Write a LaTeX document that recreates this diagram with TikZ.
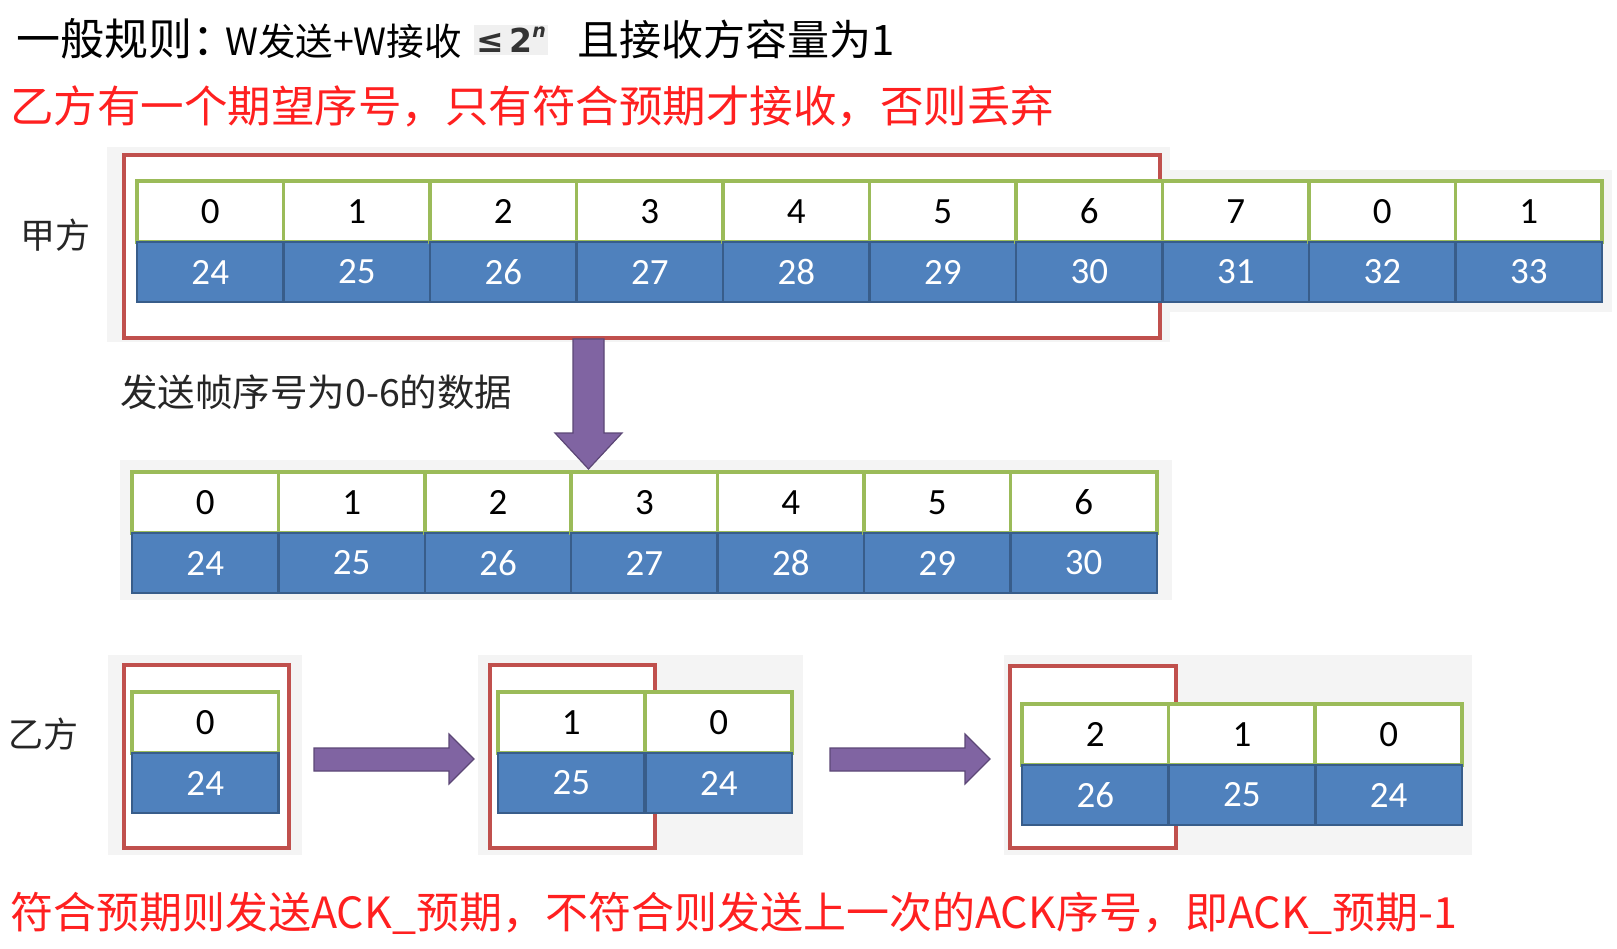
\documentclass[tikz,border=0pt]{standalone}
\usepackage{fontspec}
\setmainfont{Carlito}
\newfontfamily\cjk{Noto Sans CJK SC}
\newfontfamily\symf{DejaVu Sans}
\definecolor{cellgreen}{RGB}{155,187,89}
\definecolor{cellblue}{RGB}{79,129,189}
\definecolor{blueedge}{RGB}{56,93,138}
\definecolor{winred}{RGB}{192,80,77}
\definecolor{arrowpurple}{RGB}{128,100,162}
\definecolor{arrowedge}{RGB}{92,71,118}
\definecolor{backgray}{RGB}{244,244,244}
\definecolor{notered}{RGB}{255,32,32}
\tikzset{
  numcell/.style={draw=cellgreen, line width=3.5pt, fill=white, inner sep=0pt, outer sep=0pt,
    minimum width=146.5pt, minimum height=61pt, text=black, font=\fontsize{37}{37}\selectfont},
  seqcell/.style={draw=blueedge, line width=2.5pt, fill=cellblue, inner sep=0pt, outer sep=0pt,
    minimum width=146.5pt, minimum height=60pt, text=white, font=\fontsize{37}{37}\selectfont},
  window/.style={draw=winred, fill=white, line width=3.5pt},
  backdrop/.style={fill=backgray},
  blockarrow/.style={fill=arrowpurple, draw=arrowedge, line width=1.2pt, line join=miter},
  label/.style={inner sep=0pt, anchor=west, font=\cjk\fontsize{35}{35}\selectfont, text=black!85},
}
\begin{document}
\begin{tikzpicture}[x=1pt,y=-1pt]
\useasboundingbox (0,0) rectangle (1617,949);

% picture backdrops
\fill[backdrop] (107,147) rectangle (1170,342);
\fill[backdrop] (1160,170) rectangle (1612,312);
\fill[backdrop] (120,460) rectangle (1172,600);
\fill[backdrop] (108,655) rectangle (302,855);
\fill[backdrop] (478,655) rectangle (803,855);
\fill[backdrop] (1004,655) rectangle (1472,855);

% headings
\node[inner sep=0pt, anchor=west, font=\cjk\fontsize{44}{44}\selectfont] (ruleA) at (16,39) {一般规则：};
\node[inner sep=0pt, anchor=west, font=\cjk\fontsize{37.5}{37.5}\selectfont] (ruleB) at (225,41) {W发送+W接收};
\node[fill=black!6, inner sep=2pt, anchor=west, font=\symf\bfseries\fontsize{33}{33}\selectfont, text=black!80] (ruleC) at (474,40) {≤\,2\raisebox{0.45em}{\fontsize{19}{19}\selectfont\itshape n}};
\node[inner sep=0pt, anchor=west, font=\cjk\fontsize{42}{42}\selectfont] (ruleD) at (577,39) {且接收方容量为1};
\node[inner sep=0pt, anchor=west, font=\cjk\fontsize{43.5}{43.5}\selectfont, text=notered] (expect) at (10,106) {乙方有一个期望序号，只有符合预期才接收，否则丢弃};

% sender side
\node[label] (sender) at (20,235) {甲方};
\draw[window] (124,155) rectangle (1160,338);
\foreach \a/\b [count=\i from 0] in {0/24,1/25,2/26,3/27,4/28,5/29,6/30,7/31,0/32,1/33}{
  \node[numcell, anchor=north west] (t\i) at ({137+\i*146.5},181) {\a};
  \node[seqcell, anchor=north] (s\i) at (t\i.south) {\b};
}

% transmission
\fill[blockarrow] (573,339) -- (604,339) -- (604,433) -- (622,433) -- (588.5,469) -- (555,433) -- (573,433) -- cycle;
\node[label, font=\cjk\fontsize{37.5}{37.5}\selectfont] (sendnote) at (120,392) {发送帧序号为0-6的数据};
\foreach \a/\b [count=\i from 0] in {0/24,1/25,2/26,3/27,4/28,5/29,6/30}{
  \node[numcell, anchor=north west] (m\i) at ({132+\i*146.4},472) {\a};
  \node[seqcell, anchor=north] (n\i) at (m\i.south) {\b};
}

% receiver side
\node[label] (receiver) at (8,734) {乙方};
\draw[window] (124,665) rectangle (289,848);
\draw[window] (490,665) rectangle (655,848);
\draw[window] (1010,666) rectangle (1176,848);

\node[numcell, anchor=north west] (ra0) at (132,692) {0};
\node[seqcell, anchor=north] (rb0) at (ra0.south) {24};

\foreach \a/\b [count=\i from 0] in {1/25,0/24}{
  \node[numcell, anchor=north west] (qa\i) at ({498+\i*147.5},692) {\a};
  \node[seqcell, anchor=north] (qb\i) at (qa\i.south) {\b};
}
\foreach \a/\b [count=\i from 0] in {2/26,1/25,0/24}{
  \node[numcell, anchor=north west] (pa\i) at ({1022+\i*146.7},704) {\a};
  \node[seqcell, anchor=north] (pb\i) at (pa\i.south) {\b};
}

\fill[blockarrow] (314,748) -- (449,748) -- (449,734) -- (474,759) -- (449,784) -- (449,771) -- (314,771) -- cycle;
\fill[blockarrow] (830,748) -- (965,748) -- (965,734) -- (990,759) -- (965,784) -- (965,771) -- (830,771) -- cycle;

\node[inner sep=0pt, anchor=west, font=\cjk\fontsize{43}{43}\selectfont, text=notered] (acknote) at (10,913) {符合预期则发送ACK\_预期，不符合则发送上一次的ACK序号，即ACK\_预期-1};
\end{tikzpicture}
\end{document}
